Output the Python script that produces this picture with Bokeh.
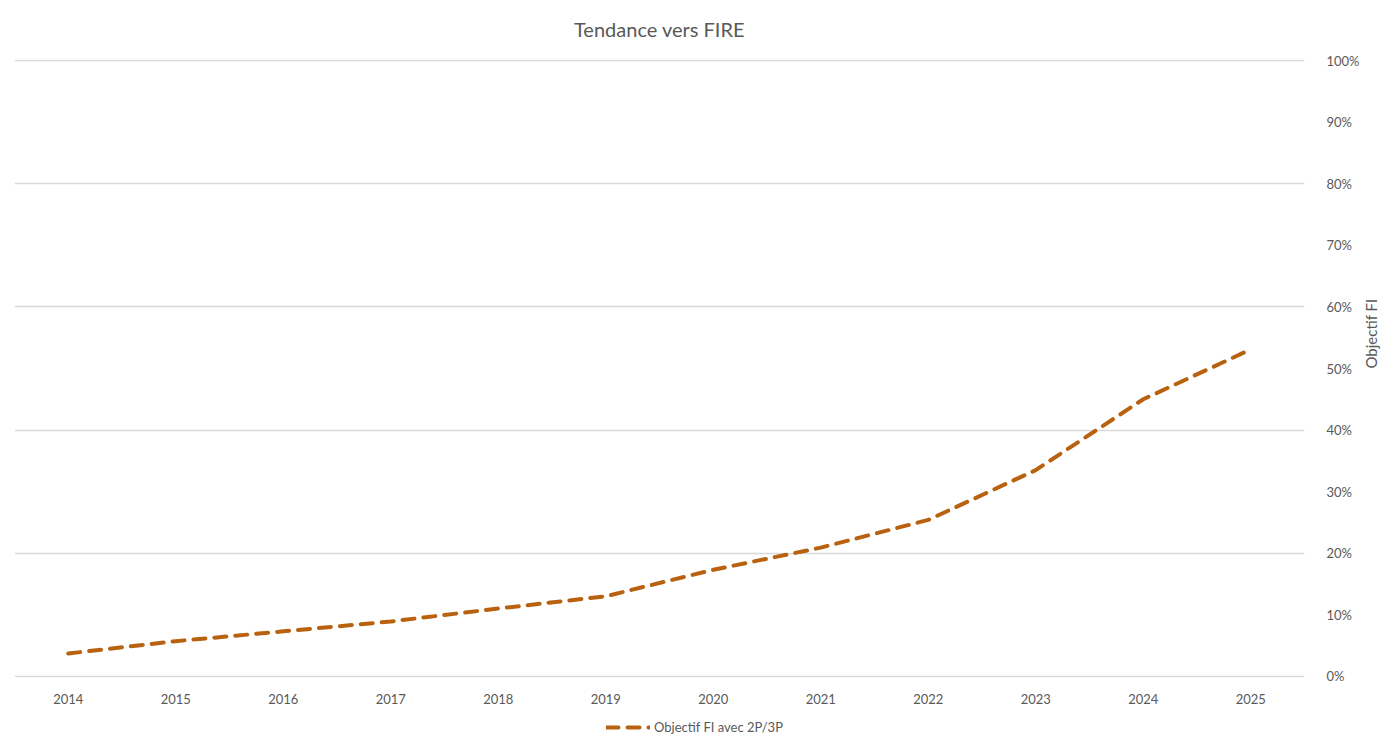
import math
from bokeh.plotting import figure
from bokeh.layouts import column
from bokeh.models import (Range1d, FixedTicker, NumeralTickFormatter, Legend, LegendItem)
from bokeh.embed import file_html
from bokeh.resources import INLINE

years = [2014, 2015, 2016, 2017, 2018, 2019, 2020, 2021, 2022, 2023, 2024, 2025]
objectif_fi = [0.037, 0.057, 0.073, 0.089, 0.110, 0.130, 0.173, 0.209, 0.254, 0.335, 0.450, 0.531]
series_name = "Objectif FI avec 2P/3P"

text_color = "#595959"
line_color = "#B8610F"
font = "Lato"
line_style = dict(line_color=line_color, line_width=4, line_dash="12 9", line_cap="round")

p = figure(frame_width=1290, frame_height=618, min_border_left=14, min_border_right=10,
           min_border_top=0, min_border_bottom=34,
           x_range=Range1d(2013.5, 2025.5), y_range=Range1d(-0.002, 1.002),
           y_axis_location="right", output_backend="svg", toolbar_location=None,
           title="Tendance vers FIRE")

p.title.align = "center"
p.title.vertical_align = "top"
p.title.text_font = font
p.title.text_font_size = "20px"
p.title.text_font_style = "normal"
p.title.text_color = text_color
p.title.standoff = 33
p.outline_line_color = None

p.line(years, objectif_fi, **line_style)

p.xaxis.ticker = FixedTicker(ticks=years)
p.yaxis.ticker = FixedTicker(ticks=[i / 10 for i in range(11)])
p.yaxis.formatter = NumeralTickFormatter(format="0%")
p.yaxis.axis_label = "Objectif FI"
p.yaxis.axis_label_orientation = math.pi / 2
for ax in (p.xaxis, p.yaxis):
    ax.axis_line_color = None
    ax.major_tick_line_color = None
    ax.minor_tick_line_color = None
    ax.major_label_text_font = font
    ax.major_label_text_font_size = "13px"
    ax.major_label_text_color = text_color
    ax.axis_label_text_font = font
    ax.axis_label_text_font_size = "15px"
    ax.axis_label_text_font_style = "normal"
    ax.axis_label_text_color = text_color
p.xaxis.major_label_standoff = 10
p.yaxis.major_label_standoff = 16
p.yaxis.axis_label_standoff = 8

p.xgrid.grid_line_color = None
p.ygrid.ticker = FixedTicker(ticks=[0, 0.2, 0.4, 0.6, 0.8, 1.0])
p.ygrid.grid_line_color = "#D9D9D9"
p.ygrid.grid_line_width = 1.5

# legend strip under the chart (series drawn out of view, only its legend shows)
leg = figure(width=1382, height=32, x_range=Range1d(0, 1), y_range=Range1d(0, 1),
             output_backend="svg", toolbar_location=None, min_border=0)
leg.axis.visible = False
leg.grid.visible = False
leg.outline_line_color = None
r = leg.line(years, objectif_fi, **line_style)
legend = Legend(items=[LegendItem(label=series_name, renderers=[r])],
                orientation="horizontal", location=(592, 8),
                label_text_font=font, label_text_font_size="13px",
                label_text_color=text_color, border_line_color=None,
                background_fill_alpha=0, label_standoff=4,
                glyph_width=44, glyph_height=16, margin=0, padding=2)
leg.add_layout(legend)

open("out.html", "w").write(file_html(column(p, leg, spacing=0), INLINE))
